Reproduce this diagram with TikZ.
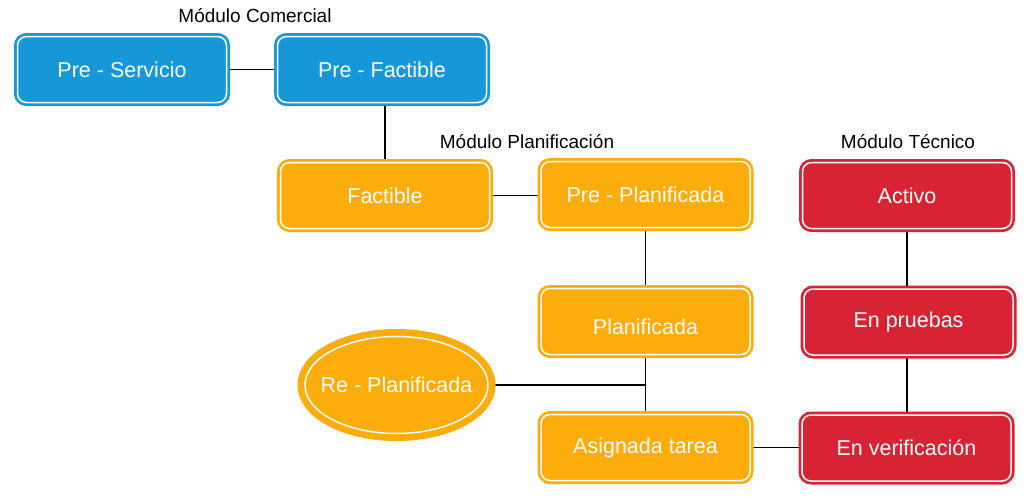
\documentclass[tikz,border=0pt]{standalone}
\usepackage{fontspec}
\setmainfont{Liberation Sans}
\usetikzlibrary{shapes.geometric,backgrounds}
\definecolor{cblue}{HTML}{1597D8}
\definecolor{corange}{HTML}{FDAD0B}
\definecolor{cred}{HTML}{D72334}
\tikzset{
  box/.style={rectangle, rounded corners=9pt, minimum width=209pt, minimum height=66pt,
    draw=white, line width=1.5pt, text=white, font=\fontsize{21.5}{25}\selectfont,
    inner sep=0pt},
  bluebox/.style={box, fill=cblue, preaction={draw=cblue, line width=7pt}},
  orangebox/.style={box, fill=corange, preaction={draw=corange, line width=7pt}},
  redbox/.style={box, fill=cred, preaction={draw=cred, line width=7pt}},
  oval/.style={ellipse, minimum width=183pt, minimum height=97pt, draw=white, line width=1.5pt,
    fill=corange, preaction={draw=corange, line width=15pt}, text=white,
    font=\fontsize{21.5}{25}\selectfont, inner sep=0pt},
  lbl/.style={font=\fontsize{19}{22}\selectfont, text=black, inner sep=0pt},
  conn/.style={draw=black, line width=1.6pt}
}
\begin{document}
\begin{tikzpicture}[x=1pt,y=-1pt]
\useasboundingbox (0,0) rectangle (1028,498);
% labels
\node[lbl] (lc) at (255,16) {Módulo Comercial};
\node[lbl] (lp) at (527,142) {Módulo Planificación};
\node[lbl] (lt) at (908,142) {Módulo Técnico};
\coordinate (jn) at (645.5,385);
% boxes
\node[bluebox] (ps) at (122,69.5) {Pre - Servicio};
\node[bluebox] (pf) at (382,69.5) {Pre - Factible};
\node[orangebox] (fa) at (385,195.5) {Factible};
\node[orangebox] (pp) at (645.5,194.5) {Pre - Planificada};
\node[orangebox, text height=26.5pt, text depth=0pt] (pl) at (645.5,321.5) {Planificada};
\node[oval] (rp) at (396.5,385) {\makebox[0pt]{Re - Planificada}};
\node[orangebox] (at) at (645.5,447.5) {Asignada tarea};
\node[redbox] (ac) at (907,195.5) {Activo};
\node[redbox] (ep) at (908.5,322) {En pruebas};
\node[redbox] (ev) at (906.5,448) {En verificación};
% connectors behind the boxes
\begin{pgfonlayer}{background}
\path[conn] (ps.east) -- (pf.west);
\path[conn] (fa.north) -- (fa.north |- pf.south);
\path[conn] (fa.east) -- (pp.west |- fa.east);
\path[conn] (pp.south) -- (pl.north);
\path[conn] (pl.south) -- (at.north);
\path[conn] (rp.east) -- (jn);
\path[conn] (at.east) -- (ev.west |- at.east);
\path[conn] (ac.south) -- (ac.south |- ep.north);
\path[conn] (ac.south |- ep.south) -- (ac.south |- ev.north);
\end{pgfonlayer}
\end{tikzpicture}
\end{document}
